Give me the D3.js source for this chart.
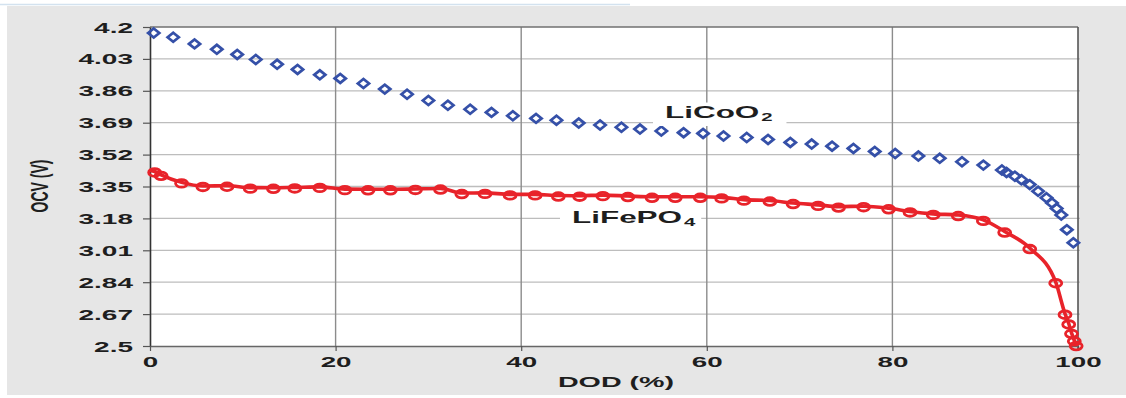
<!DOCTYPE html>
<html><head><meta charset="utf-8">
<script src="https://cdnjs.cloudflare.com/ajax/libs/d3/7.8.5/d3.min.js"></script>
<style>
html,body{margin:0;padding:0;background:#fff;}
svg{display:block;}
text{font-family:"Liberation Sans",Arial,sans-serif;font-weight:bold;fill:#1e1e1e;}
</style></head>
<body>
<svg id="chart" width="1126" height="398"></svg>
<script>
// ---- data ----
const xTicks = [0, 20, 40, 60, 80, 100];
const yTicks = [4.2, 4.03, 3.86, 3.69, 3.52, 3.35, 3.18, 3.01, 2.84, 2.67, 2.5];
const yTickLabels = ["4.2", "4.03", "3.86", "3.69", "3.52", "3.35", "3.18", "3.01", "2.84", "2.67", "2.5"];
const xTitle = "DOD (%)";
const yTitle = "OCV (V)";

const licoo2DOD = [0.4, 2.5, 4.8, 7.2, 9.4, 11.4, 13.7, 15.9, 18.3, 20.5, 23.0, 25.3, 27.7, 30.0, 32.1,
  34.5, 36.8, 39.1, 41.6, 43.8, 46.2, 48.5, 50.8, 52.8, 55.1, 57.5, 59.6, 61.8, 64.3, 66.6, 69.0,
  71.3, 73.5, 75.8, 78.1, 80.3, 82.8, 85.1, 87.5, 89.8, 91.8, 92.3, 93.2, 93.9, 94.8, 95.7, 96.6,
  97.2, 97.7, 98.2, 98.8, 99.5];
const licoo2OCV = [4.168, 4.145, 4.110, 4.081, 4.054, 4.027, 4.001, 3.974, 3.945, 3.926, 3.899, 3.869, 3.842, 3.808, 3.783,
  3.762, 3.745, 3.727, 3.713, 3.703, 3.688, 3.678, 3.666, 3.656, 3.646, 3.637, 3.633, 3.619, 3.611, 3.601, 3.585,
  3.576, 3.565, 3.553, 3.537, 3.526, 3.512, 3.500, 3.482, 3.464, 3.438, 3.425, 3.405, 3.386, 3.360, 3.325, 3.290,
  3.262, 3.233, 3.198, 3.120, 3.050];

const lifepo4DOD = [0.5, 1.2, 3.4, 5.7, 8.3, 10.8, 13.3, 15.6, 18.3, 21.0, 23.5, 25.9, 28.6, 31.3, 33.6,
  36.1, 38.8, 41.5, 44.0, 46.3, 48.8, 51.5, 54.1, 56.6, 59.3, 61.6, 64.0, 66.8, 69.3, 72.0, 74.2,
  76.9, 79.6, 81.9, 84.4, 87.1, 89.8, 92.1, 94.8, 97.6, 98.6, 99.0, 99.3, 99.6, 99.8];
const lifepo4OCV = [3.430, 3.412, 3.372, 3.353, 3.354, 3.344, 3.343, 3.345, 3.348, 3.336, 3.335, 3.335, 3.337, 3.339, 3.315,
  3.316, 3.308, 3.308, 3.302, 3.301, 3.304, 3.299, 3.295, 3.295, 3.295, 3.292, 3.280, 3.275, 3.262, 3.252, 3.243,
  3.245, 3.234, 3.217, 3.204, 3.198, 3.172, 3.110, 3.022, 2.840, 2.672, 2.620, 2.570, 2.530, 2.505];

const seriesNames = ["LiCoO", "LiFePO"];
const seriesSubs = ["2", "4"];

// ---- drawing ----
const svg = d3.select("#chart");
const SX = 1.85; // horizontal stretch of the text in the picture
const x = d3.scaleLinear().domain([0, 100]).range([150, 1078]);
const y = d3.scaleLinear().domain([2.5, 4.2]).range([346, 27]);

// outer grey panel + faint top line
svg.append("line").attr("x1", 0).attr("x2", 630).attr("y1", 4.5).attr("y2", 4.5)
  .attr("stroke", "#d3e2ef").attr("stroke-width", 1.5);
svg.append("rect").attr("x", 7).attr("y", 6).attr("width", 1119).attr("height", 389).attr("fill", "#e6e6e6");
svg.append("rect").attr("x", x(0)).attr("y", y(4.2)).attr("width", x(100) - x(0)).attr("height", y(2.5) - y(4.2))
  .attr("fill", "#fff");

// horizontal gridlines
svg.append("g").selectAll("line").data(yTicks.filter(v => v > 2.5 && v < 4.2)).join("line")
  .attr("x1", x(0)).attr("x2", x(100) + 2).attr("y1", d => y(d)).attr("y2", d => y(d))
  .attr("stroke", "#bdbdbd").attr("stroke-width", 1.3);
// vertical gridlines
svg.append("g").selectAll("line").data(xTicks.filter(v => v > 0 && v < 100)).join("line")
  .attr("x1", d => x(d)).attr("x2", d => x(d)).attr("y1", y(4.2)).attr("y2", y(2.5))
  .attr("stroke", "#8c8c8c").attr("stroke-width", 1.4);
// top and right borders
svg.append("line").attr("x1", x(0)).attr("x2", x(100)).attr("y1", y(4.2)).attr("y2", y(4.2))
  .attr("stroke", "#707070").attr("stroke-width", 1.6);
svg.append("line").attr("x1", x(100)).attr("x2", x(100)).attr("y1", y(4.2)).attr("y2", y(2.5) + 4)
  .attr("stroke", "#555").attr("stroke-width", 1.6);

// axes
const yAxis = svg.append("g").attr("transform", `translate(${x(0)},0)`)
  .call(d3.axisLeft(y).tickValues(yTicks).tickFormat((d, i) => yTickLabels[i]).tickSize(7).tickSizeOuter(0));
yAxis.select(".domain").attr("stroke", "#333").attr("stroke-width", 1.6);
yAxis.selectAll(".tick line").attr("stroke", "#555").attr("stroke-width", 1.2);
yAxis.selectAll(".tick text")
  .attr("x", 0).attr("dy", "0.36em")
  .attr("text-anchor", "end")
  .attr("font-size", 14)
  .attr("fill", "#1e1e1e")
  .attr("transform", `translate(-17,0) scale(${2.0},1)`);
yAxis.attr("font-family", null);

const xAxis = svg.append("g").attr("transform", `translate(0,${y(2.5)})`)
  .call(d3.axisBottom(x).tickValues(xTicks).tickFormat(d3.format("d")).tickSize(5).tickSizeOuter(0));
xAxis.select(".domain").attr("stroke", "#666").attr("stroke-width", 1.6);
xAxis.selectAll(".tick line").attr("stroke", "#555").attr("stroke-width", 1.2);
xAxis.selectAll(".tick text")
  .attr("y", 0).attr("dy", 0)
  .attr("text-anchor", "middle")
  .attr("font-size", 15)
  .attr("fill", "#1e1e1e")
  .attr("transform", `translate(0,21) scale(${SX},1)`);
xAxis.attr("font-family", null);

// axis titles
svg.append("text").text(xTitle)
  .attr("text-anchor", "middle").attr("font-size", 15.5)
  .attr("transform", `translate(616,387) scale(${SX},1)`);
svg.append("text").text(yTitle)
  .attr("text-anchor", "middle").attr("font-size", 14)
  .attr("transform", `translate(48,186) scale(1.75,1) rotate(-90)`);

// LiFePO4 line + circles
const red = "#e8232a", blue = "#3550a8";
const fe = lifepo4DOD.map((d, i) => [d, lifepo4OCV[i]]);
const co = licoo2DOD.map((d, i) => [d, licoo2OCV[i]]);

svg.append("path").datum([[0, 3.435]].concat(fe))
  .attr("fill", "none").attr("stroke", red).attr("stroke-width", 3.6)
  .attr("stroke-linejoin", "round")
  .attr("d", d3.line().x(d => x(d[0])).y(d => y(d[1])).curve(d3.curveMonotoneX));
svg.append("g").selectAll("ellipse").data(fe).join("ellipse")
  .attr("cx", d => x(d[0])).attr("cy", d => y(d[1]) + 1)
  .attr("rx", 6).attr("ry", 3.8)
  .attr("fill", "none").attr("stroke", red).attr("stroke-width", 2.8);

// LiCoO2 diamonds
svg.append("g").selectAll("path").data(co).join("path")
  .attr("transform", d => `translate(${x(d[0])},${y(d[1])})`)
  .attr("d", "M-5.6,0L0,-4.5L5.6,0L0,4.5Z")
  .attr("fill", "none").attr("stroke", blue).attr("stroke-width", 2.7)
  .attr("stroke-linejoin", "miter");

// series labels with white boxes
function label(i, px, py, padL, padR, padT, padB) {
  const g = svg.append("g").attr("transform", `translate(${px},${py}) scale(${SX},1)`);
  const rect = g.append("rect").attr("fill", "#fff");
  const t = g.append("text").attr("font-size", 17).attr("x", 0).attr("y", 0);
  t.append("tspan").text(seriesNames[i]);
  t.append("tspan").text(seriesSubs[i]).attr("font-size", 11).attr("dy", 3).attr("dx", 1);
  const b = t.node().getBBox();
  rect.attr("x", b.x - padL / SX).attr("y", b.y - padT)
    .attr("width", b.width + (padL + padR) / SX).attr("height", b.height + padT + padB);
}
label(0, 665, 118, 12, 14, 0, 3);
label(1, 572, 223, 12, 6, 0, 0);
</script>
</body></html>
